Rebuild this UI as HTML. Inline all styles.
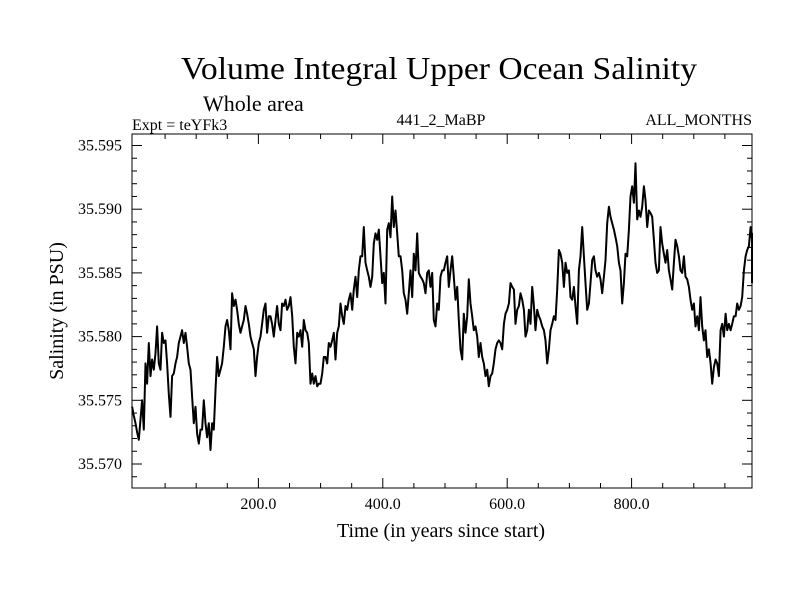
<!DOCTYPE html>
<html><head><meta charset="utf-8"><style>
body{margin:0;background:#fff}
svg text{font-family:"Liberation Serif",serif;fill:#000}
</style></head><body>
<svg id="chart" width="800" height="600" xmlns="http://www.w3.org/2000/svg">
<rect width="800" height="600" fill="#fff"/>
<text x="181" y="79" font-size="32" textLength="516" lengthAdjust="spacingAndGlyphs">Volume Integral Upper Ocean Salinity</text>
<text x="203" y="111" font-size="22">Whole area</text>
<text x="132" y="130" font-size="16">Expt = teYFk3</text>
<text x="441" y="125" font-size="16" text-anchor="middle">441_2_MaBP</text>
<text x="752" y="125" font-size="16" text-anchor="end">ALL_MONTHS</text>
<text x="441" y="537" font-size="20" text-anchor="middle">Time (in years since start)</text>
<text x="0" y="0" font-size="20" text-anchor="middle" transform="translate(63,311) rotate(-90)">Salinity (in PSU)</text>
<g id="ticks"></g>
<g id="series"></g>
<rect x="132" y="134" width="620" height="354" fill="none" stroke="#000" stroke-width="1"/>
</svg>
<script>
const xTickValues=[200,400,600,800];
const xTickLabels=["200.0","400.0","600.0","800.0"];
const yTickValues=[35.570,35.575,35.580,35.585,35.590,35.595];
const yTickLabels=["35.570","35.575","35.580","35.585","35.590","35.595"];
const startYear=-3;
const yearStep=2.68;
const salinity=[
35.5745,35.5738,35.5732,35.5725,35.5719,35.5735,35.5750,35.5727,35.5779,35.5763,35.5795,35.5769,35.5782,35.5774,35.5787,35.5808,35.5779,35.5774,35.5803,35.5795,
35.5797,35.5779,35.5755,35.5737,35.5769,35.5771,35.5779,35.5784,35.5795,35.5800,35.5805,35.5795,35.5803,35.5792,35.5779,35.5774,35.5753,35.5732,35.5745,35.5724,
35.5716,35.5727,35.5727,35.5750,35.5732,35.5721,35.5732,35.5711,35.5732,35.5727,35.5758,35.5784,35.5769,35.5774,35.5779,35.5792,35.5808,35.5813,35.5805,35.5790,
35.5834,35.5824,35.5829,35.5821,35.5810,35.5803,35.5808,35.5813,35.5824,35.5818,35.5810,35.5800,35.5795,35.5790,35.5769,35.5784,35.5795,35.5800,35.5810,35.5821,
35.5826,35.5803,35.5816,35.5816,35.5810,35.5800,35.5813,35.5824,35.5810,35.5805,35.5826,35.5824,35.5829,35.5821,35.5824,35.5831,35.5816,35.5792,35.5779,35.5803,
35.5800,35.5805,35.5792,35.5813,35.5805,35.5803,35.5795,35.5763,35.5771,35.5763,35.5769,35.5761,35.5763,35.5763,35.5771,35.5784,35.5784,35.5779,35.5795,35.5792,
35.5797,35.5803,35.5782,35.5803,35.5808,35.5826,35.5816,35.5810,35.5824,35.5821,35.5829,35.5834,35.5821,35.5837,35.5847,35.5831,35.5852,35.5863,35.5863,35.5886,
35.5858,35.5852,35.5847,35.5839,35.5847,35.5873,35.5881,35.5876,35.5884,35.5863,35.5842,35.5850,35.5826,35.5884,35.5889,35.5878,35.5910,35.5886,35.5899,35.5881,
35.5863,35.5863,35.5852,35.5834,35.5829,35.5818,35.5834,35.5852,35.5831,35.5865,35.5852,35.5881,35.5850,35.5847,35.5845,35.5842,35.5834,35.5850,35.5852,35.5839,
35.5850,35.5813,35.5808,35.5826,35.5821,35.5847,35.5852,35.5852,35.5858,35.5863,35.5839,35.5852,
35.5863,35.5847,35.5829,35.5839,35.5813,35.5790,35.5782,35.5818,35.5803,35.5816,35.5845,35.5826,35.5816,35.5805,35.5808,35.5800,35.5784,35.5795,35.5784,35.5779,
35.5769,35.5774,35.5761,35.5769,35.5771,35.5779,35.5790,35.5795,35.5797,35.5795,35.5790,35.5810,35.5818,35.5821,35.5826,35.5842,35.5839,35.5837,35.5810,35.5821,
35.5824,35.5834,35.5829,35.5821,35.5800,35.5805,35.5821,35.5810,35.5839,35.5824,35.5805,35.5821,35.5816,35.5813,35.5808,35.5805,35.5797,35.5779,35.5790,35.5805,
35.5810,35.5816,35.5813,35.5837,35.5868,35.5865,35.5858,35.5839,35.5858,35.5850,35.5852,35.5831,35.5829,35.5839,35.5824,35.5810,35.5852,35.5863,35.5886,35.5863,
35.5842,35.5821,35.5826,35.5842,35.5860,35.5863,35.5852,35.5847,35.5850,35.5845,35.5834,35.5847,35.5860,35.5889,35.5902,35.5894,35.5889,35.5884,35.5878,35.5871,
35.5858,35.5852,35.5826,35.5842,35.5865,35.5863,35.5884,35.5910,35.5918,35.5905,35.5936,35.5892,35.5899,35.5894,35.5902,35.5918,35.5907,35.5886,35.5899,35.5897,
35.5894,35.5876,35.5858,35.5850,35.5852,35.5886,35.5873,35.5865,35.5858,35.5868,35.5852,35.5845,35.5837,35.5858,35.5876,35.5871,35.5863,35.5852,35.5850,35.5863,
35.5847,35.5845,35.5839,35.5829,35.5821,35.5826,35.5808,35.5816,35.5805,35.5831,35.5808,35.5797,35.5805,35.5784,35.5790,35.5779,35.5763,35.5776,35.5782,35.5779,
35.5769,35.5805,35.5810,35.5800,35.5818,35.5805,35.5810,35.5805,35.5810,35.5816,35.5816,35.5826,35.5821,35.5824,35.5831,35.5852,35.5863,35.5868,35.5871,35.5886,
35.5876,35.5881,35.5858,35.5842
];
const L=132,R=752,T=134,B=488;
const xMin=-3.2,xMax=993.6;
function xs(t){return L+(t-xMin)/(xMax-xMin)*(R-L);}
const yScale=12740;
function ys(v){return 464-(v-35.570)*yScale;}
const NS="http://www.w3.org/2000/svg";
const tg=document.getElementById('ticks');
function line(x1,y1,x2,y2,name){
  const l=document.createElementNS(NS,'line');
  l.setAttribute('x1',x1);l.setAttribute('y1',y1);l.setAttribute('x2',x2);l.setAttribute('y2',y2);
  l.setAttribute('stroke','#000');l.setAttribute('stroke-width','1');
  
  
  tg.appendChild(l);
}
for(let t=50;t<xMax;t+=50){
  const x=xs(t);const len=(t%200===0)?10:5;
  line(x,B,x,B-len,'x-tick');line(x,T,x,T+len,'x-tick-top');
}
for(let k=-1;k<=26;k++){
  const v=35.570+k*0.001;const y=ys(v);
  if(y<T||y>B)continue;
  const len=(k%5===0)?10:5;
  line(L,y,L+len,y,'y-tick');line(R,y,R-len,y,'y-tick-right');
}
xTickValues.forEach((t,i)=>{
  const tx=document.createElementNS(NS,'text');
  tx.setAttribute('x',xs(t));tx.setAttribute('y',509);
  tx.setAttribute('font-size','16');tx.setAttribute('text-anchor','middle');
  tx.textContent=xTickLabels[i];
  
  
  tg.appendChild(tx);
});
yTickValues.forEach((v,i)=>{
  const tx=document.createElementNS(NS,'text');
  tx.setAttribute('x',122);tx.setAttribute('y',ys(v)+5);
  tx.setAttribute('font-size','16');tx.setAttribute('text-anchor','end');
  tx.textContent=yTickLabels[i];
  
  
  tg.appendChild(tx);
});
const pts=[];
salinity.forEach((v,i)=>{
  const t=startYear+i*yearStep;
  let x=xs(t);x=Math.max(L,Math.min(R,x));
  pts.push(x.toFixed(1)+','+ys(v).toFixed(1));
});
const pl=document.createElementNS(NS,'polyline');
pl.setAttribute('points',pts.join(' '));
pl.setAttribute('fill','none');pl.setAttribute('stroke','#000');pl.setAttribute('stroke-width','2');
pl.setAttribute('stroke-linejoin','round');


document.getElementById('series').appendChild(pl);
</script>
</body></html>
